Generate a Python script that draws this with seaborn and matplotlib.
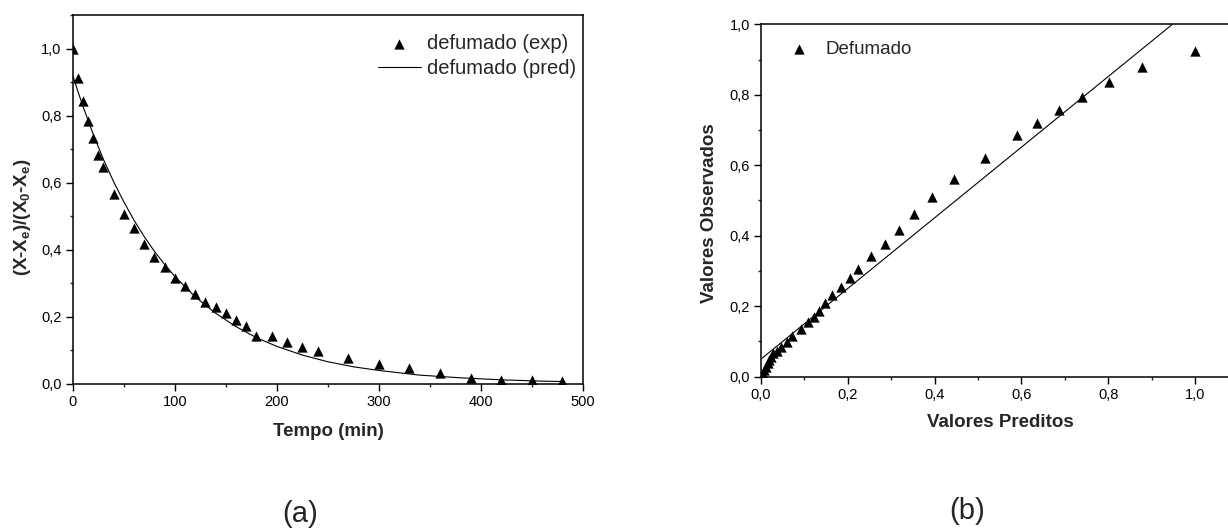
import matplotlib
matplotlib.use("Agg")
import matplotlib.pyplot as plt
from matplotlib.ticker import MultipleLocator, FuncFormatter
import seaborn as sns
import pandas as pd

# ---- data ----
tempo_exp = [0, 5, 10, 15, 20, 25, 30, 40, 50, 60, 70, 80, 90, 100, 110, 120, 130,
             140, 150, 160, 170, 180, 195, 210, 225, 240, 270, 300, 330, 360, 390,
             420, 450, 480]
razao_exp = [1.000, 0.913, 0.844, 0.784, 0.733, 0.682, 0.645, 0.567, 0.507, 0.463,
             0.416, 0.378, 0.348, 0.315, 0.290, 0.267, 0.243, 0.229, 0.209, 0.191,
             0.173, 0.143, 0.143, 0.124, 0.110, 0.097, 0.075, 0.057, 0.045, 0.030,
             0.017, 0.010, 0.009, 0.006]

tempo_pred = [0, 5, 10, 20, 30, 40, 50, 60, 70, 80, 90, 100, 120, 140, 160, 180, 200,
              225, 250, 275, 300, 340, 380, 420, 460, 480]
razao_pred = [0.920, 0.873, 0.828, 0.745, 0.670, 0.603, 0.543, 0.488, 0.439, 0.395,
              0.356, 0.320, 0.259, 0.210, 0.170, 0.137, 0.111, 0.085, 0.065, 0.050,
              0.039, 0.025, 0.017, 0.011, 0.007, 0.006]

valores_preditos = [1.000, 0.879, 0.803, 0.740, 0.686, 0.637, 0.591, 0.517, 0.445,
                    0.395, 0.353, 0.318, 0.285, 0.253, 0.224, 0.206, 0.184, 0.164,
                    0.148, 0.134, 0.121, 0.108, 0.093, 0.072, 0.059, 0.046, 0.036,
                    0.028, 0.023, 0.019, 0.015, 0.012, 0.008, 0.004, 0.002]
valores_observados = [0.924, 0.880, 0.836, 0.795, 0.757, 0.719, 0.686, 0.620, 0.561,
                      0.509, 0.461, 0.416, 0.377, 0.342, 0.307, 0.281, 0.254, 0.231,
                      0.208, 0.187, 0.170, 0.154, 0.134, 0.115, 0.099, 0.085, 0.074,
                      0.066, 0.057, 0.047, 0.038, 0.028, 0.019, 0.009, 0.002]

reta_x = [0.0, 0.948]
reta_y = [0.05, 1.0]

# ---- style ----
sns.set_style("white")
plt.rcParams["font.family"] = ["Liberation Sans", "DejaVu Sans"]
plt.rcParams["mathtext.fontset"] = "custom"
plt.rcParams["mathtext.bf"] = "Liberation Sans:bold"
plt.rcParams["mathtext.rm"] = "Liberation Sans"
plt.rcParams["mathtext.default"] = "bf"

fig = plt.figure(figsize=(12.28, 5.29), dpi=100)
W, H = 1228, 529
ax1 = fig.add_axes([72.7 / W, (H - 383.5) / H, 510 / W, 368.5 / H])
ax2 = fig.add_axes([761 / W, (H - 376.7) / H, 468.7 / W, 352.4 / H])

comma = FuncFormatter(lambda v, p: f"{v:.1f}".replace(".", ","))

# ---- panel (a) ----
df_exp = pd.DataFrame({"t": tempo_exp, "r": razao_exp})
df_pred = pd.DataFrame({"t": tempo_pred, "r": razao_pred})
sns.scatterplot(data=df_exp, x="t", y="r", marker="^", s=55, color="black",
                linewidth=0, label="defumado (exp)", ax=ax1, zorder=3)
sns.lineplot(data=df_pred, x="t", y="r", color="black", linewidth=0.8,
             label="defumado (pred)", ax=ax1, zorder=2)
ax1.set_xlim(0, 500)
ax1.set_ylim(0, 1.1)
ax1.xaxis.set_major_locator(MultipleLocator(100))
ax1.xaxis.set_minor_locator(MultipleLocator(50))
ax1.set_yticks([0, 0.2, 0.4, 0.6, 0.8, 1.0])
ax1.yaxis.set_minor_locator(MultipleLocator(0.1))
ax1.yaxis.set_major_formatter(comma)
ax1.set_xlabel("Tempo (min)", fontsize=13.5, fontweight="bold")
ax1.set_ylabel("(X-X$_e$)/(X$_0$-X$_e$)", fontsize=13.5, fontweight="bold")
ax1.xaxis.set_label_coords(0.5006, -0.107)
ax1.yaxis.set_label_coords(-0.0769, 0.452)
ax1.legend(loc="upper right", bbox_to_anchor=(0.987, 0.948), frameon=False,
           fontsize=14.5, borderpad=0, borderaxespad=0, handlelength=2.13,
           handletextpad=0.3, labelspacing=0.27)

# ---- panel (b) ----
df_b = pd.DataFrame({"p": valores_preditos, "o": valores_observados})
df_reta = pd.DataFrame({"x": reta_x, "y": reta_y})
sns.scatterplot(data=df_b, x="p", y="o", marker="^", s=55, color="black",
                linewidth=0, label="Defumado", ax=ax2, zorder=3)
sns.lineplot(data=df_reta, x="x", y="y", color="black", linewidth=0.8, ax=ax2,
             zorder=2)
ax2.set_xlim(0, 1.08)
ax2.set_ylim(0, 1.0)
ax2.set_xticks([0, 0.2, 0.4, 0.6, 0.8, 1.0])
ax2.xaxis.set_minor_locator(MultipleLocator(0.1))
ax2.set_yticks([0, 0.2, 0.4, 0.6, 0.8, 1.0])
ax2.yaxis.set_minor_locator(MultipleLocator(0.1))
ax2.xaxis.set_major_formatter(comma)
ax2.yaxis.set_major_formatter(comma)
ax2.set_xlabel("Valores Preditos", fontsize=13.5, fontweight="bold")
ax2.set_ylabel("Valores Observados", fontsize=13.5, fontweight="bold")
ax2.xaxis.set_label_coords(0.51, -0.106)
ax2.yaxis.set_label_coords(-0.0907, 0.4645)
ax2.legend(loc="upper left", bbox_to_anchor=(0.051, 0.953), frameon=False,
           fontsize=13.5, borderpad=0, borderaxespad=0, handlelength=1.5,
           handletextpad=0.64)

for ax in (ax1, ax2):
    for s in ax.spines.values():
        s.set_color("black")
        s.set_linewidth(1.1)
    ax.tick_params(which="major", direction="out", length=5, width=1.0,
                   labelsize=10.5, colors="black", bottom=True, left=True,
                   top=False, right=False, pad=3)
    ax.tick_params(which="minor", direction="out", length=2.5, width=1.0,
                   bottom=True, left=True, top=False, right=False)

fig.text(300 / W, 1 - 514 / H, "(a)", fontsize=21, ha="center", va="center")
fig.text(967 / W, 1 - 511 / H, "(b)", fontsize=21, ha="center", va="center")

fig.savefig("out.png", dpi=100, facecolor="white")
